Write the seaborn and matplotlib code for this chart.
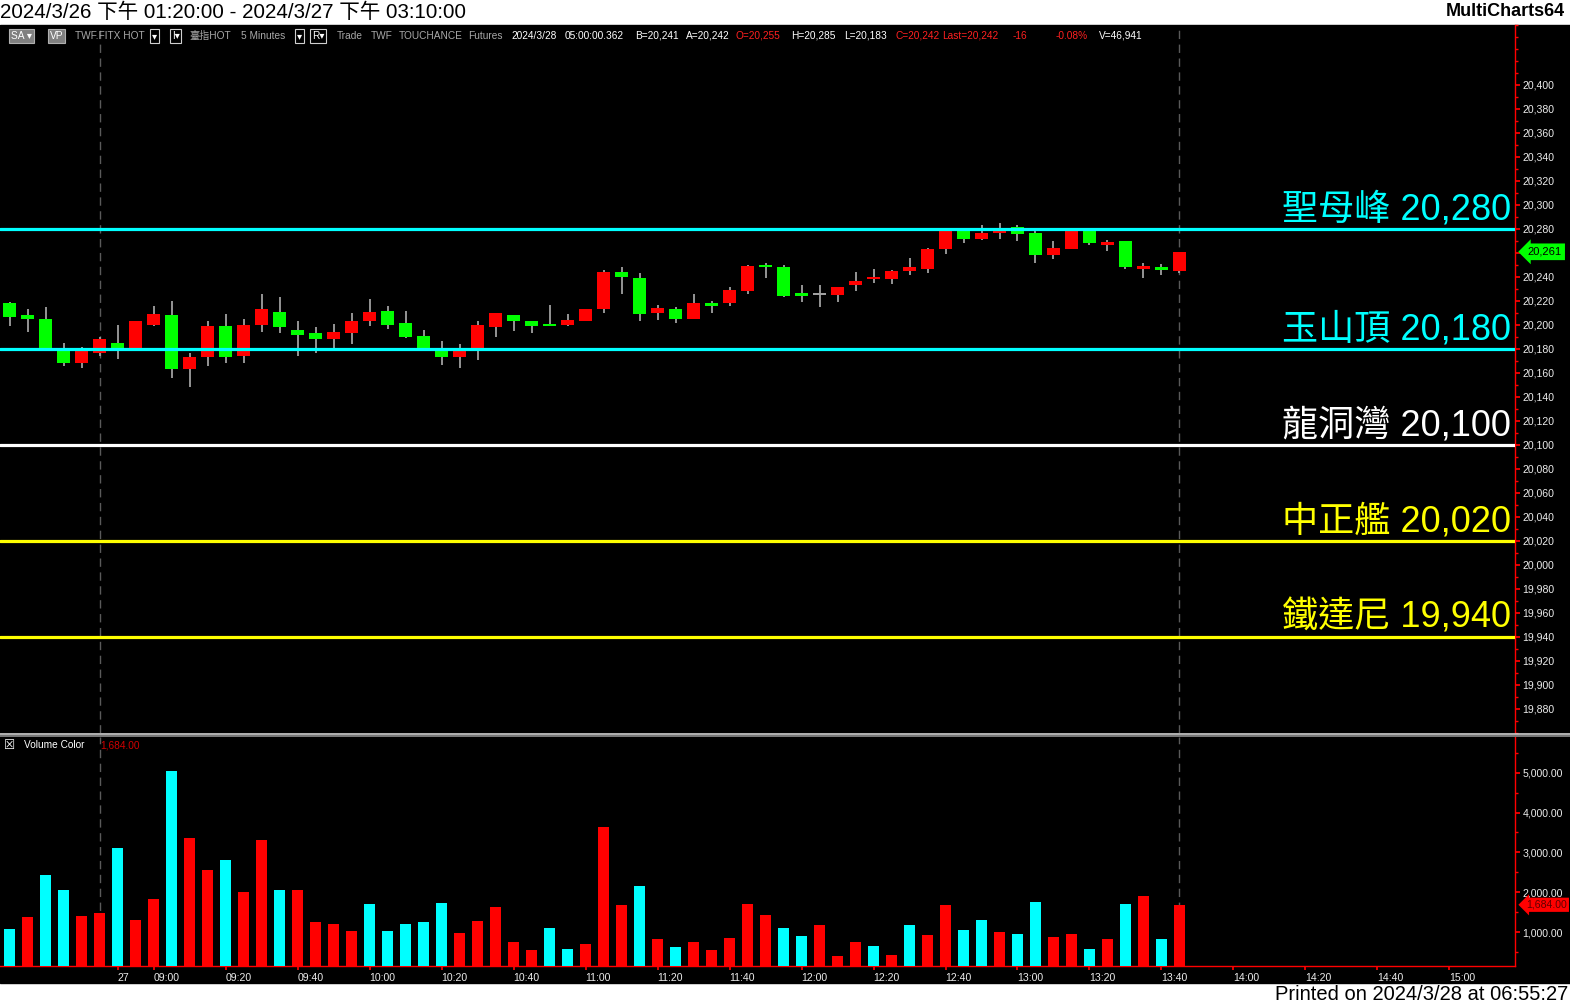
import numpy as np
import pandas as pd
import matplotlib
matplotlib.use("Agg")
import matplotlib.pyplot as plt
import matplotlib.transforms as mtransforms
import matplotlib.ticker as mticker
from matplotlib.lines import Line2D
from matplotlib.patches import Rectangle
import seaborn as sns

# 臺指期 5 分K (2024/3/27)
opens = [20218, 20208, 20205, 20180, 20168, 20177, 20185, 20180, 20200, 20208,
         20163, 20173, 20199, 20174, 20200, 20211, 20196, 20193, 20188, 20193,
         20203, 20212, 20202, 20191, 20181, 20173, 20178, 20198, 20208, 20203,
         20201, 20200, 20203, 20213, 20244, 20239, 20210, 20213, 20205, 20218,
         20218, 20228, 20250, 20248, 20227, 20226, 20225, 20233, 20238, 20238,
         20245, 20247, 20263, 20279, 20272, 20277, 20282, 20277, 20258, 20263,
         20278, 20267, 20270, 20247, 20248, 20245]
highs = [20219, 20213, 20215, 20185, 20182, 20190, 20200, 20203, 20216, 20220,
         20177, 20203, 20209, 20205, 20226, 20223, 20203, 20198, 20201, 20210,
         20222, 20216, 20212, 20196, 20187, 20184, 20203, 20210, 20208, 20203,
         20217, 20209, 20213, 20246, 20248, 20243, 20217, 20215, 20226, 20220,
         20232, 20250, 20252, 20250, 20233, 20233, 20232, 20244, 20247, 20246,
         20256, 20264, 20280, 20281, 20283, 20285, 20283, 20279, 20270, 20279,
         20279, 20271, 20270, 20252, 20251, 20261]
lows = [20199, 20194, 20178, 20166, 20164, 20174, 20172, 20179, 20199, 20156,
        20148, 20166, 20168, 20168, 20194, 20193, 20174, 20177, 20178, 20184,
        20199, 20197, 20189, 20180, 20167, 20164, 20171, 20190, 20195, 20193,
        20199, 20199, 20203, 20210, 20226, 20203, 20204, 20202, 20205, 20210,
        20216, 20226, 20239, 20223, 20219, 20215, 20219, 20228, 20235, 20234,
        20242, 20243, 20259, 20268, 20271, 20272, 20270, 20252, 20255, 20263,
        20267, 20262, 20247, 20239, 20242, 20243]
closes = [20207, 20205, 20181, 20168, 20181, 20188, 20179, 20203, 20209, 20163,
          20173, 20199, 20173, 20200, 20213, 20198, 20192, 20188, 20194, 20203,
          20211, 20200, 20190, 20181, 20173, 20180, 20200, 20210, 20203, 20199,
          20199, 20204, 20213, 20244, 20240, 20209, 20214, 20205, 20218, 20216,
          20229, 20249, 20248, 20224, 20224, 20226, 20232, 20237, 20240, 20245,
          20248, 20263, 20278, 20272, 20277, 20281, 20276, 20258, 20264, 20278,
          20268, 20269, 20248, 20249, 20246, 20261]
volumes = [1075, 1377, 2435, 2055, 1402, 1477, 3110, 1302, 1830, 5050,
           3365, 2560, 2810, 2005, 3315, 2055, 2055, 1250, 1200, 1025,
           1700, 1025, 1200, 1250, 1730, 975, 1275, 1630, 750, 550,
           1100, 570, 700, 3640, 1680, 2160, 825, 625, 750, 550,
           850, 1700, 1430, 1100, 900, 1175, 400, 750, 650, 420,
           1175, 925, 1680, 1050, 1300, 1000, 950, 1755, 875, 950,
           570, 825, 1700, 1905, 825, 1684]
vol_colors = ['cyan', 'red', 'cyan', 'cyan', 'red', 'red', 'cyan', 'red', 'red', 'cyan',
              'red', 'red', 'cyan', 'red', 'red', 'cyan', 'red', 'red', 'red', 'red',
              'cyan', 'cyan', 'cyan', 'cyan', 'cyan', 'red', 'red', 'red', 'red', 'red',
              'cyan', 'cyan', 'red', 'red', 'red', 'cyan', 'red', 'cyan', 'red', 'red',
              'red', 'red', 'red', 'cyan', 'cyan', 'red', 'red', 'red', 'cyan', 'red',
              'cyan', 'red', 'red', 'cyan', 'cyan', 'red', 'cyan', 'cyan', 'red', 'red',
              'cyan', 'red', 'cyan', 'red', 'cyan', 'red']

# 關卡價位
level_names = ['聖母峰', '玉山頂', '龍洞灣', '中正艦', '鐵達尼']
level_prices = [20280, 20180, 20100, 20020, 19940]
level_colors = ['#00ffff', '#00ffff', '#ffffff', '#ffff00', '#ffff00']

xtick_labels = ['27', '09:00', '09:20', '09:40', '10:00', '10:20', '10:40', '11:00',
                '11:20', '11:40', '12:00', '12:20', '12:40', '13:00', '13:20',
                '13:40', '14:00', '14:20', '14:40', '15:00']
last_price = 20261
last_volume = 1684

sns.set_theme(style='dark', rc={'axes.facecolor': 'black', 'figure.facecolor': 'white'})
plt.rcParams['font.family'] = ['Liberation Sans', 'Noto Sans CJK TC', 'DejaVu Sans']

W, H = 1570, 1007


def px_rect(x0, y0, x1, y1):
    return [x0 / W, 1 - y1 / H, (x1 - x0) / W, (y1 - y0) / H]


fig = plt.figure(figsize=(W / 100, H / 100), dpi=100)
fig.patches.append(Rectangle((0, 1 - 983 / H), 1, (983 - 25) / H,
                             transform=fig.transFigure, color='black', zorder=-10))

ax_p = fig.add_axes(px_rect(0, 25, 1515, 733))
ax_v = fig.add_axes(px_rect(0, 737, 1515, 966))
ax_p.set_zorder(2)
ax_v.set_zorder(2)

df = pd.DataFrame({'bar': np.arange(len(opens)), 'open': opens, 'high': highs,
                   'low': lows, 'close': closes, 'volume': volumes, 'vcolor': vol_colors})

# K 棒
body_col = np.where(df.close > df.open, '#ff0000',
                    np.where(df.close < df.open, '#00ff00', '#a0a0a0'))
body_h = np.maximum((df.close - df.open).abs(), 1.6)
body_mid = (df.open + df.close) / 2
ax_p.vlines(df.bar, df.low, df.high, color='#a0a0a0', lw=1.3, zorder=2)
ax_p.bar(df.bar, body_h, bottom=body_mid - body_h / 2, width=0.72,
         color=body_col, linewidth=0, zorder=3)

# 關卡線
blend = mtransforms.blended_transform_factory(ax_p.transAxes, ax_p.transData)
for name, lv, col in zip(level_names, level_prices, level_colors):
    ax_p.axhline(lv, color=col, lw=2.3, zorder=5)
    ax_p.annotate(f'{name} {lv:,}', xy=(1, lv), xycoords=blend, xytext=(-3, 6.5),
                  textcoords='offset points', ha='right', va='baseline',
                  fontsize=26, color=col,
                  family=['Liberation Sans', 'Noto Sans CJK TC'], zorder=6)

# 成交量
sns.barplot(data=df, x='bar', y='volume', hue='vcolor',
            palette={'cyan': '#00ffff', 'red': '#ff0000'}, native_scale=True,
            width=0.6, dodge=False, legend=False, errorbar=None, saturation=1,
            linewidth=0, ax=ax_v, zorder=3)

for ax in (ax_p, ax_v):
    ax.set_facecolor('black')
    ax.grid(False)
    ax.set_xlim(-0.53, 83.64)
    ax.set_xlabel('')
    ax.set_ylabel('')
    for s in ax.spines.values():
        s.set_visible(False)
    ax.spines['right'].set_visible(True)
    ax.spines['right'].set_color('#ff0000')
    ax.spines['right'].set_linewidth(1)
    ax.yaxis.tick_right()
    ax.tick_params(axis='y', which='both', direction='out', colors='#ff0000',
                   labelcolor='#ececec', labelsize=7.6, pad=2)
    ax.tick_params(axis='y', which='major', length=3.5)
    ax.tick_params(axis='y', which='minor', length=2.5)
    # 分日虛線 / 最新K
    ax.axvline(5, color='#5a5a5a', lw=1, ls=(0, (6, 4)), zorder=1)
    ax.axvline(65, color='#5a5a5a', lw=1, ls=(0, (6, 4)), zorder=1)

ax_p.set_ylim(19860, 20450)
price_ticks = np.arange(19880, 20401, 20)
ax_p.set_yticks(price_ticks)
# 20,260 被最新價標籤蓋住
ax_p.set_yticklabels(['' if v == 20260 else f'{v:,}' for v in price_ticks])
ax_p.yaxis.set_minor_locator(mticker.MultipleLocator(10))
ax_p.set_xticks([])

ax_v.set_ylim(146, 5899)
vol_ticks = np.arange(1000, 5001, 1000)
ax_v.set_yticks(vol_ticks)
ax_v.set_yticklabels([f'{v:,.2f}' for v in vol_ticks])
ax_v.yaxis.set_minor_locator(mticker.MultipleLocator(500))
ax_v.spines['bottom'].set_visible(True)
ax_v.spines['bottom'].set_color('#ff0000')
ax_v.spines['bottom'].set_linewidth(1)
xpos = [6] + [8 + 4 * k for k in range(len(xtick_labels) - 1)]
ax_v.set_xticks(xpos)
ax_v.set_xticklabels(xtick_labels, ha='left')
ax_v.tick_params(axis='x', which='both', direction='out', colors='#ff0000',
                 labelcolor='#ececec', labelsize=7.6, length=3, pad=2, bottom=True)
ax_v.set_xlim(-0.53, 83.64)

# 右側最新值標籤
ax_p.annotate(f'{last_price:,}', xy=(1, last_price), xycoords=blend, xytext=(9, 0),
              textcoords='offset points', ha='left', va='center', fontsize=8,
              color='black', annotation_clip=False,
              bbox=dict(boxstyle='larrow,pad=0.3', fc='#00ff00', ec='none'))
blend_v = mtransforms.blended_transform_factory(ax_v.transAxes, ax_v.transData)
ax_v.annotate(f'{last_volume:,.2f}', xy=(1, last_volume), xycoords=blend_v, xytext=(8, 0),
              textcoords='offset points', ha='left', va='center', fontsize=7.6,
              color='#600000', annotation_clip=False,
              bbox=dict(boxstyle='larrow,pad=0.2', fc='#ff0000', ec='none'))

# 分隔線
for yy, c in ((733.8, '#d0d0d0'), (736.0, '#909090')):
    fig.add_artist(Line2D([0, 1], [1 - yy / H, 1 - yy / H], transform=fig.transFigure,
                          color=c, lw=1.2, zorder=10))

# 上方資訊列
def ftxt(x, y, s, **kw):
    fig.text(x / W, 1 - y / H, s, va='center', ha='left', zorder=10, **kw)


ftxt(0, 12, '2024/3/26 下午 01:20:00 - 2024/3/27 下午 03:10:00', fontsize=14.8, color='black')
fig.text(1565 / W, 1 - 12 / H, 'MultiCharts64', va='center', ha='right', fontsize=13,
         fontweight='bold', color='black')
fig.text(1568 / W, 1 - 995 / H, 'Printed on 2024/3/28 at 06:55:27', va='center', ha='right',
         fontsize=14.5, color='black')

box_gray = dict(boxstyle='square,pad=0.15', fc='#808080', ec='#b0b0b0', lw=0.8)
box_dd = dict(boxstyle='square,pad=0.15', fc='black', ec='#d0d0d0', lw=0.8)
ftxt(11, 36, 'SA ▾', fontsize=7.3, color='white', bbox=box_gray)
ftxt(50, 36, 'VP', fontsize=7.3, color='white', bbox=box_gray)
ftxt(152, 36, '▾', fontsize=7.3, color='white', bbox=box_dd)
ftxt(172, 36, 'I▾', fontsize=7.3, color='white', bbox=box_dd)
ftxt(297, 36, '▾', fontsize=7.3, color='white', bbox=box_dd)
ftxt(312, 36, 'R▾', fontsize=7.3, color='white', bbox=box_dd)
header = [(75, 'TWF.FITX HOT', '#a8a8a8'), (189, '臺指HOT', '#a8a8a8'),
          (241, '5 Minutes', '#a8a8a8'), (337, 'Trade', '#a8a8a8'),
          (371, 'TWF', '#a8a8a8'), (399, 'TOUCHANCE', '#a8a8a8'),
          (468, 'Futures', '#a8a8a8'), (511, '2024/3/28', 'white'),
          (565, '05:00:00.362', 'white'), (635, 'B=20,241', 'white'),
          (686, 'A=20,242', 'white'), (735, 'O=20,255', '#ff2020'),
          (791, 'H=20,285', 'white'), (844, 'L=20,183', 'white'),
          (896, 'C=20,242', '#ff2020'), (942, 'Last=20,242', '#ff2020'),
          (1013, '-16', '#ff2020'), (1056, '-0.08%', '#ff2020'),
          (1099, 'V=46,941', 'white')]
for x, s, c in header:
    ftxt(x, 36, s, fontsize=7.3, color=c)

# 量能標題
ftxt(4, 745, '☒', fontsize=9, color='white', family='DejaVu Sans')
ftxt(24, 745, 'Volume Color', fontsize=7.3, color='white')
ftxt(100, 745, '1,684.00', fontsize=7.3, color='#d00000')

fig.savefig('out.png', dpi=100, facecolor='white')
